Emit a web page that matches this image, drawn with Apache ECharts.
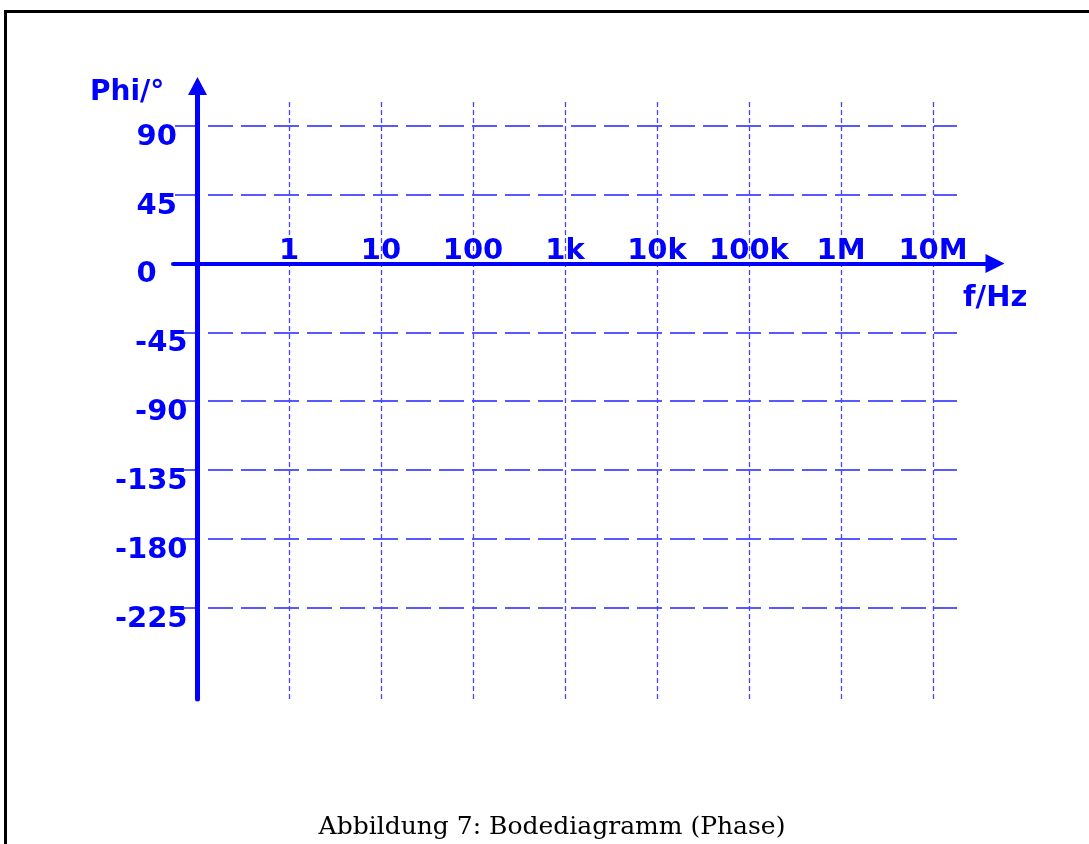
<!DOCTYPE html>
<html>
<head>
<meta charset="utf-8">
<script src="https://cdn.jsdelivr.net/npm/echarts@6/dist/echarts.min.js"></script>
<style>
html,body{margin:0;padding:0;background:#fff;}
#chart{width:1089px;height:844px;}
</style>
</head>
<body>
<div id="chart"></div>
<script>
// ---- data ----
const freqDecades = [0, 1, 2, 3, 4, 5, 6, 7];           // log10(f/Hz)
const freqLabels  = ['1', '10', '100', '1k', '10k', '100k', '1M', '10M'];
const phaseTicks  = [-225, -180, -135, -90, -45, 0, 45, 90]; // degrees
const phaseMin = -225, phaseMax = 90, phaseStep = 45;
const yAxisName = 'Phi/°';
const xAxisName = 'f/Hz';
const caption = 'Abbildung 7: Bodediagramm (Phase)';

const BLUE = '#0000ff';
const labelFont = { fontFamily: 'DejaVu Sans', fontWeight: 'bold', fontSize: 29, color: BLUE };

const chart = echarts.init(document.getElementById('chart'), null, { renderer: 'canvas' });

const decadeLabel = {};
freqDecades.forEach((d, i) => { decadeLabel[d] = freqLabels[i]; });

const option = {
  animation: false,
  backgroundColor: '#ffffff',
  title: [
    { text: yAxisName, left: 90, top: 79, padding: 0,
      textStyle: Object.assign({}, labelFont, { fontSize: 28 }) },
    { text: xAxisName, left: 963, top: 284, padding: 0, textStyle: labelFont },
    { text: caption, left: 552, top: 815, padding: 0, textAlign: 'center',
      textStyle: { fontFamily: 'DejaVu Serif', fontWeight: 'normal', fontSize: 25, color: '#000' } }
  ],
  graphic: [
    { type: 'polyline', silent: true, z: 0,
      shape: { points: [[5.5, 844], [5.5, 11.5], [1089, 11.5]] },
      style: { stroke: '#000', lineWidth: 3, fill: null } }
  ],
  grid: [
    // 0: horizontal frequency axis line
    { left: 173, right: 94, top: 263.4, height: 100, containLabel: false },
    // 1: vertical phase axis line
    { left: 197.5, width: 100, top: 86, bottom: 145, containLabel: false },
    // 2: vertical (frequency) grid lines + tick labels
    { left: 289, right: 156, top: 102, bottom: 144, containLabel: false },
    // 3: horizontal (phase) grid lines + tick labels
    { left: 175, right: 132, top: 125.7, bottom: 236.3, containLabel: false }
  ],
  xAxis: [
    { gridIndex: 0, type: 'value', position: 'top', min: 0, max: 1,
      axisLine: { show: true, onZero: false, symbol: ['none', 'triangle'], symbolSize: [19, 19],
        lineStyle: { color: BLUE, width: 4, cap: 'round' } },
      axisTick: { show: false }, axisLabel: { show: false }, splitLine: { show: false } },
    { gridIndex: 1, type: 'value', min: 0, max: 1, show: false },
    { gridIndex: 2, type: 'value', position: 'bottom', offset: -(700 - 263.4),
      min: freqDecades[0], max: freqDecades[freqDecades.length - 1], interval: 1,
      axisLine: { show: false }, axisTick: { show: false },
      axisLabel: Object.assign({ show: true, inside: true, margin: -3,
        formatter: v => decadeLabel[v] || '' }, labelFont),
      splitLine: { show: true, showMinLine: true, showMaxLine: true,
        lineStyle: { color: '#4646ff', opacity: 1, width: 1.3, type: [5, 3] } } },
    { gridIndex: 3, type: 'value', min: 0, max: 1, show: false }
  ],
  yAxis: [
    { gridIndex: 0, type: 'value', min: 0, max: 1, show: false },
    { gridIndex: 1, type: 'value', position: 'left', min: 0, max: 1,
      axisLine: { show: true, onZero: false, symbol: ['none', 'triangle'], symbolSize: [19, 18],
        lineStyle: { color: BLUE, width: 5, cap: 'round' } },
      axisTick: { show: false }, axisLabel: { show: false }, splitLine: { show: false } },
    { gridIndex: 2, type: 'value', min: 0, max: 1, show: false },
    { gridIndex: 3, type: 'value', position: 'left', offset: -22.5,
      min: phaseMin, max: phaseMax, interval: phaseStep,
      axisLine: { show: false }, axisTick: { show: false },
      axisLabel: {
        show: true, margin: 10, padding: [23, 0, 0, 0],
        formatter: v => (phaseTicks.indexOf(v) < 0 ? '' : (v >= 0 ? '{p|' + v + '}' : '{n|' + v + '}')),
        rich: {
          p: Object.assign({ width: 51, align: 'left' }, labelFont),
          n: Object.assign({}, labelFont)
        }
      },
      splitLine: { show: true, showMinLine: true, showMaxLine: true,
        lineStyle: { color: '#2222ff', width: 1.5, type: [25, 8] } } }
  ],
  series: [
    { type: 'line', xAxisIndex: 0, yAxisIndex: 0, data: [], silent: true },
    { type: 'line', xAxisIndex: 1, yAxisIndex: 1, data: [], silent: true },
    { type: 'line', xAxisIndex: 2, yAxisIndex: 2, data: [], silent: true },
    { type: 'line', xAxisIndex: 3, yAxisIndex: 3, data: [], silent: true }
  ]
};
chart.setOption(option);
</script>
</body>
</html>
